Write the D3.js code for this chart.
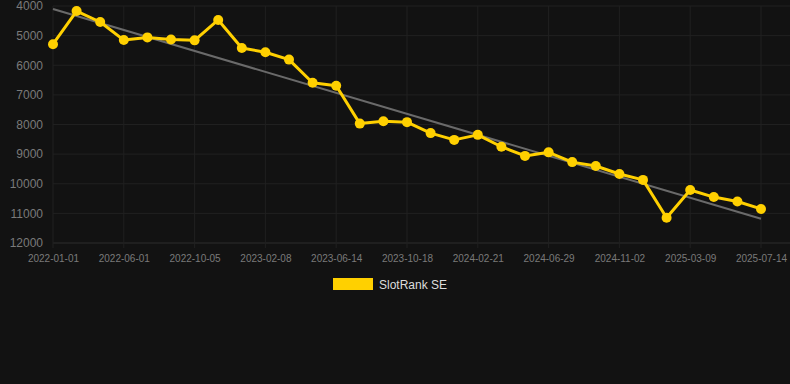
<!DOCTYPE html>
<html lang="en">
<head>
    <meta charset="UTF-8">
    <title>SlotRank SE</title>
    <script src="https://d3js.org/d3.v7.min.js"></script>
    <style>
        body { margin: 0; background: #121212; }
        svg { display: block; }
    </style>
</head>
<body>
    <svg width="790" height="384"></svg>
    <script>
        // categories (only every 3rd one is labelled on the axis)
        const dates = [
            "2022-01-01", "2022-02-20", "2022-04-11", "2022-06-01", "2022-07-12", "2022-08-23",
            "2022-10-05", "2022-11-16", "2022-12-28", "2023-02-08", "2023-03-22", "2023-05-03",
            "2023-06-14", "2023-07-26", "2023-09-06", "2023-10-18", "2023-11-29", "2024-01-10",
            "2024-02-21", "2024-04-03", "2024-05-17", "2024-06-29", "2024-08-10", "2024-09-21",
            "2024-11-02", "2024-12-14", "2025-01-25", "2025-03-09", "2025-04-20", "2025-06-01",
            "2025-07-14"
        ];
        const ranks = [
            5290, 4170, 4540, 5150, 5060, 5130,
            5160, 4470, 5420, 5560, 5810, 6590,
            6690, 7970, 7890, 7920, 8290, 8520,
            8350, 8750, 9060, 8940, 9270, 9400,
            9670, 9870, 11150, 10210, 10450, 10600,
            10850
        ];
        const trend = [4100, 11180]; // first and last category
        const yTicks = [4000, 5000, 6000, 7000, 8000, 9000, 10000, 11000, 12000];
        const seriesName = "SlotRank SE";

        const width = 790;
        const height = 384;
        const margin = {top: 6, right: 0, bottom: 141, left: 53};
        const innerRight = width - margin.right;
        const gridColor = "#202020";

        const svg = d3.select("svg");

        const x = d3.scalePoint()
            .domain(dates)
            .range([margin.left, 761]);

        const y = d3.scaleLinear()
            .domain([4000, 12000])
            .range([margin.top, height - margin.bottom]);

        const tickDates = dates.filter((d, i) => i % 3 === 0);

        // grid
        svg.append("g")
            .selectAll("line.h")
            .data(yTicks)
            .join("line")
            .attr("x1", margin.left)
            .attr("x2", innerRight)
            .attr("y1", d => y(d))
            .attr("y2", d => y(d))
            .attr("stroke", (d, i) => i === yTicks.length - 1 ? "#2c2c2c" : gridColor)
            .attr("stroke-width", 1);

        svg.append("g")
            .selectAll("line.v")
            .data(tickDates)
            .join("line")
            .attr("x1", d => x(d))
            .attr("x2", d => x(d))
            .attr("y1", margin.top)
            .attr("y2", y(12000) + 5)
            .attr("stroke", gridColor)
            .attr("stroke-width", 1);

        // y axis
        const yAxis = svg.append("g")
            .attr("transform", `translate(${margin.left},0)`)
            .call(d3.axisLeft(y).tickValues(yTicks).tickSize(0).tickPadding(10).tickFormat(d3.format("d")));
        yAxis.select(".domain").remove();
        yAxis.selectAll("text")
            .attr("fill", "#7a7a7a")
            .style("font-family", "Arial, 'Liberation Sans', sans-serif")
            .style("font-size", "12px");

        // x axis
        const xAxis = svg.append("g")
            .attr("transform", `translate(0,${y(12000)})`)
            .call(d3.axisBottom(x).tickValues(tickDates).tickSize(0).tickPadding(12));
        xAxis.select(".domain").remove();
        xAxis.selectAll("text")
            .attr("fill", "#7a7a7a")
            .style("font-family", "Arial, 'Liberation Sans', sans-serif")
            .style("font-size", "10px");

        // trend line
        svg.append("line")
            .attr("x1", x(dates[0]))
            .attr("x2", x(dates[dates.length - 1]))
            .attr("y1", y(trend[0]))
            .attr("y2", y(trend[1]))
            .attr("stroke", "#6a6a6a")
            .attr("stroke-width", 2);

        // series
        const data = dates.map((d, i) => ({date: d, rank: ranks[i]}));
        const line = d3.line()
            .x(d => x(d.date))
            .y(d => y(d.rank));

        svg.append("path")
            .datum(data)
            .attr("fill", "none")
            .attr("stroke", "#ffd000")
            .attr("stroke-width", 3)
            .attr("stroke-linejoin", "round")
            .attr("d", line);

        svg.append("g")
            .selectAll("circle")
            .data(data)
            .join("circle")
            .attr("cx", d => x(d.date))
            .attr("cy", d => y(d.rank))
            .attr("r", 5)
            .attr("fill", "#ffd000");

        // legend
        const legend = svg.append("g").attr("transform", "translate(333,278)");
        legend.append("rect")
            .attr("width", 40)
            .attr("height", 12)
            .attr("fill", "#ffd000");
        legend.append("text")
            .attr("x", 46)
            .attr("y", 10.5)
            .attr("fill", "#dddddd")
            .style("font-family", "Arial, 'Liberation Sans', sans-serif")
            .style("font-size", "12px")
            .text(seriesName);
    </script>
</body>
</html>
